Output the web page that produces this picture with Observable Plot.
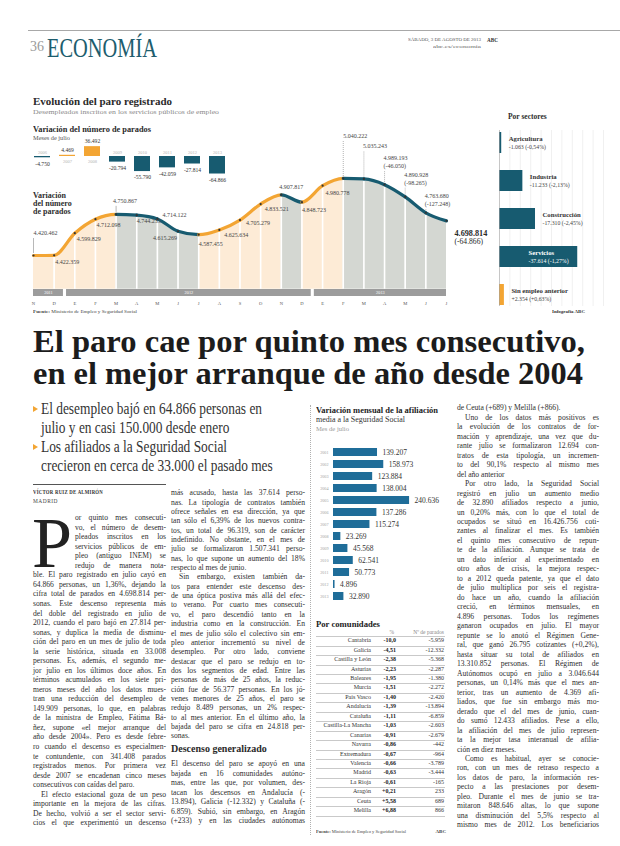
<!DOCTYPE html>
<html lang="es"><head><meta charset="utf-8">
<script src="https://cdn.jsdelivr.net/npm/d3@7"></script>
<script src="https://cdn.jsdelivr.net/npm/@observablehq/plot@0.6"></script>
<style>
html,body{margin:0;padding:0;background:#fff;}
#page{position:relative;width:620px;height:846px;overflow:hidden;font-family:"Liberation Serif","Times New Roman",serif;color:#2a2a2a;}
.a{position:absolute;white-space:nowrap;}
.p{position:absolute;}
.p svg{overflow:visible;display:block;}
</style></head><body><div id="page"></div>
<script>
// ================= DATA =================
const monthLetters = ["N","D","E","F","M","A","M","J","J","A","S","O","N","D","E","F","M","A","M","J","J"];
const parados = [4420462,4422359,4599829,4712098,4750867,4744235,4714122,4615269,4587455,4625634,4705279,4833521,4907817,4848723,4980778,5040222,5035243,4989193,4890928,4763680,4698814];
const stripYears = ["2011","2012","2013"];
const stripFirst = [0,2,14];
const stripLast = [1,13,20];

const julioYears = ["2006","2007","2008","2009","2010","2011","2012","2013"];
const julioChange = [-4750,4469,36492,-20794,-55790,-42059,-27814,-64866];

const sectores = ["Agricultura","Industria","Construcción","Servicios","Sin empleo anterior"];
const sectorChange = [-1063,-11233,-17310,-37614,2354];
const sectorPct = [-0.54,-2.13,-2.45,-1.27,0.63];

const afilYears = ["2001","2002","2003","2004","2005","2006","2007","2008","2009","2010","2011","2012","2013"];
const afilChange = [139207,158973,123884,138004,240636,137286,115274,23269,45568,62541,50773,4896,32890];

const comunidades = ["Cantabria","Galicia","Castilla y León","Asturias","Baleares","Murcia","País Vasco","Andalucía","Cataluña","Castilla-La Mancha","Canarias","Navarra","Extremadura","Valencia","Madrid","La Rioja","Aragón","Ceuta","Melilla"];
const comPct = [-10.0,-4.51,-2.38,-2.23,-1.95,-1.51,-1.40,-1.39,-1.11,-1.03,-0.91,-0.86,-0.67,-0.66,-0.63,-0.61,0.21,5.58,6.88];
const comParados = [-5959,-12332,-5368,-2287,-1380,-2272,-2420,-13894,-6859,-2603,-2679,-442,-964,-3789,-3444,-165,233,689,866];

// ================= TEXT =================
const col1Lines = ["or quinto mes consecuti-","vo, el número de desem-","pleados inscritos en los","servicios públicos de em-","pleo (antiguo INEM) se","redujo de manera nota-","ble. El paro registrado en julio cayó en","64.866 personas, un 1,36%, dejando la","cifra total de parados en 4.698.814 per-","sonas. Este descenso representa más","del doble del registrado en julio de","2012, cuando el paro bajó en 27.814 per-","sonas, y duplica la media de disminu-","ción del paro en un mes de julio de toda","la serie histórica, situada en 33.008","personas. Es, además, el segundo me-","jor julio en los últimos doce años. En","términos acumulados en los siete pri-","meros meses del año los datos mues-","tran una reducción del desempleo de","149.909 personas, lo que, en palabras","de la ministra de Empleo, Fátima Bá-","ñez, supone «el mejor arranque del","año desde 2004». Pero es desde febre-","ro cuando el descenso es especialmen-","te contundente, con 341.408 parados","registrados menos. Por primera vez","desde 2007 se encadenan cinco meses","consecutivos con caídas del paro.$","^El efecto estacional goza de un peso","importante en la mejora de las cifras.","De hecho, volvió a ser el sector servi-","cios el que experimentó un descenso"];
const col2Lines = ["más acusado, hasta las 37.614 perso-","nas. La tipología de contratos también","ofrece señales en esa dirección, ya que","tan sólo el 6,39% de los nuevos contra-","tos, un total de 96.319, son de carácter","indefinido. No obstante, en el mes de","julio se formalizaron 1.507.341 perso-","nas, lo que supone un aumento del 18%","respecto al mes de junio.$","^Sin embargo, existen también da-","tos para entender este descenso des-","de una óptica postiva más allá del efec-","to verano. Por cuarto mes consecuti-","vo, el paro descendió tanto en la","industria como en la construcción. En","el mes de julio sólo el colectivo sin em-","pleo anterior incrementó su nivel de","desempleo. Por otro lado, conviene","destacar que el paro se redujo en to-","dos los segmentos de edad. Entre las","personas de más de 25 años, la reduc-","ción fue de 56.377 personas. En los jó-","venes menores de 25 años, el paro se","redujo 8.489 personas, un 2% respec-","to al mes anterior. En el último año, la","bajada del paro se cifra en 24.818 per-","sonas.$"];
const col2bLines = ["El descenso del paro se apoyó en una","bajada en 16 comunidades autóno-","mas, entre las que, por volumen, des-","tacan los descensos en Andalucía (-","13.894), Galicia (-12.332) y Cataluña (-","6.859). Subió, sin embargo, en Aragón","(+233) y en las ciudades autónomas"];
const col4Lines = ["de Ceuta (+689) y Melilla (+866).$","^Uno de los datos más positivos es","la evolución de los contratos de for-","mación y aprendizaje, una vez que du-","rante julio se formalizaron 12.694 con-","tratos de esta tipología, un incremen-","to del 90,1% respecto al mismo mes","del año anterior$","^Por otro lado, la Seguridad Social","registró en julio un aumento medio","de 32.890 afiliados respecto a junio,","un 0,20% más, con lo que el total de","ocupados se situó en 16.426.756 coti-","zantes al finalizar el mes. Es también","el quinto mes consecutivo de repun-","te de la afiliación. Aunque se trata de","un dato inferior al experimentado en","otro años de crisis, la mejora respec-","to a 2012 queda patente, ya que el dato","de julio multiplica por seis el registra-","do hace un año, cuando la afiliación","creció, en términos mensuales, en","4.896 personas. Todos los regímenes","ganaron ocupados en julio. El mayor","repunte se lo anotó el Régimen Gene-","ral, que ganó 26.795 cotizantes (+0,2%),","hasta situar su total de afiliados en","13.310.852 personas. El Régimen de","Autónomos ocupó en julio a 3.046.644","personas, un 0,14% más que el mes an-","terior, tras un aumento de 4.369 afi-","liados, que fue sin embargo más mo-","derado que el del mes de junio, cuan-","do sumó 12.433 afiliados. Pese a ello,","la afiliación del mes de julio represen-","ta la mejor tasa interanual de afilia-","ción en diez meses.$","^Como es habitual, ayer se conocie-","ron, con un mes de retraso respecto a","los datos de paro, la información res-","pecto a las prestaciones por desem-","pleo. Durante el mes de junio se tra-","mitaron 848.646 altas, lo que supone","una disminución del 5,5% respecto al","mismo mes de 2012. Los beneficiarios"];

// ================= STYLE =================
const FONT = "'Liberation Serif','Times New Roman',serif";
const teal = "#175b70", orange = "#f3a533", peach = "#fdebd6", grayArea = "#d4d7d2", afilBlue = "#1f6d99";

const fmt = n => (n < 0 ? "-" : "") + Math.abs(n).toString().replace(/\B(?=(\d{3})+(?!\d))/g, ".");
const fmtS = n => (n > 0 ? "+" : "") + fmt(n);
const pctS = (n, d = 2) => (n > 0 ? "+" : n < 0 ? "-" : "") + Math.abs(n).toFixed(d).replace(".", ",");

const page = document.getElementById("page");
function T(html, x, cy, size, css = {}, anchor = "start") {
  const d = document.createElement("div");
  d.className = "a";
  const lh = size * 1.25;
  Object.assign(d.style, {top: (cy - lh / 2) + "px", fontSize: size + "px", lineHeight: lh + "px"}, css);
  if (anchor === "end") d.style.right = (620 - x) + "px"; else d.style.left = x + "px";
  d.innerHTML = html;
  page.appendChild(d);
  return d;
}
function fit(d, w, origin = "0 50%") {
  d.style.transformOrigin = origin;
  const nat = d.getBoundingClientRect().width;
  const s = w / nat;
  d.style.transform = `scaleX(${s})`;
  return s;
}
function box(x, y, w, h, css) {
  const d = document.createElement("div");
  d.className = "a";
  Object.assign(d.style, {left: x + "px", top: y + "px", width: w + "px", height: h + "px"}, css);
  page.appendChild(d);
  return d;
}
function place(svg, x, y) {
  const d = document.createElement("div");
  d.className = "p";
  d.style.left = x + "px"; d.style.top = y + "px";
  d.appendChild(svg);
  page.appendChild(d);
  return d;
}
function bodyCol(lines, x, w, y0, lh, size, indentPx, dropLines = 0, dropW = 0) {
  lines.forEach((raw, i) => {
    let t = raw, ind = 0, last = false;
    if (t.startsWith("^")) { t = t.slice(1); ind = indentPx; }
    if (t.endsWith("$")) { t = t.slice(0, -1); last = true; }
    if (i < dropLines) ind = dropW;
    const d = T("", x + ind, y0 + i * lh, size, {color: "#2e2e2e"});
    const s = document.createElement("span");
    s.textContent = t; s.style.display = "inline-block";
    d.appendChild(s);
    const W = w - ind;
    const nat = s.getBoundingClientRect().width;
    if (nat > W) {
      s.style.transformOrigin = "0 50%"; s.style.transform = `scaleX(${W / nat})`;
    } else if (!last) {
      const n = (t.match(/ /g) || []).length;
      if (n) s.style.wordSpacing = ((W - nat) / n) + "px";
    }
  });
}

// ================= PAGE HEADER =================
box(28, 30, 592, 1, {background: "#a8a8a8"});
T("36", 30, 47, 14, {color: "#9a9a9a"});
fit(T("ECONOMÍA", 47, 47.5, 28, {color: "#1d5d6e"}), 110);
fit(T("SÁBADO, 3 DE AGOSTO DE 2013", 408, 40, 5, {color: "#555"}), 73);
T("<b>ABC</b>", 487, 40, 5.2, {color: "#333"});
fit(T("abc.es/economia", 433, 47, 5, {color: "#666"}), 48);

// ================= MAIN CHART TITLES =================
fit(T("<b>Evolución del paro registrado</b>", 33, 102, 10.5, {color: "#2a2a2a"}), 139);
fit(T("Desempleados inscritos en los servicios públicos de empleo", 33, 112, 6.2, {color: "#8a8a8a"}), 186);
fit(T("<b>Variación del número de parados</b>", 33, 129.5, 8, {color: "#2a2a2a"}), 118);
fit(T("Meses de julio", 33, 138, 5.5, {color: "#555"}), 37);

// ================= MAIN AREA/LINE CHART =================
const N = parados.length;
const series = parados.map((v, i) => ({i, v}));
const segs = d3.range(N - 1).map(i => ({i, up: parados[i + 1] > parados[i], top: Math.max(parados[i], parados[i + 1])}));
const yMin = 4150000, yMax = 5050000;
const mainTop = 125, mainH = 166;
const xRange = [33, 446];
const yRange = [163.7, 51.6];
const K = (yMax - yMin) / (yRange[0] - yRange[1]);
const pxPerIdx = (xRange[1] - xRange[0]) / (N - 1);

// label layout (px offsets of label centre from the point)
const lblLayout = [
  {dx: 0, dy: -22, tick: "solid"}, {dx: 1, dy: 7}, {dx: 2, dy: 5.5}, {dx: 1, dy: 6},
  {dx: -3, dy: -13, tick: "solid"}, {dx: 0, dy: 5.5}, {dx: 5, dy: -4}, {dx: -1, dy: 7, end: true},
  {dx: 0, dy: 9}, {dx: 5, dy: 5}, {dx: 6, dy: 3.5}, {dx: 4, dy: 5}, {dx: -2, dy: -8},
  {dx: 0, dy: 8}, {dx: 3, dy: 7}, {dx: 0, dy: -42, tick: "dot"}, {dx: -1, dy: -33, tick: "dot"},
  {dx: -1, dy: -23, tick: "dot", chg: true}, {dx: -1, dy: -17.6, tick: "dot", chg: true},
  {dx: -1, dy: -13, tick: "dot", chg: true}, {dx: 8, dy: 16.5, final: true}
];
const lbl = series.map((d, i) => {
  const L = lblLayout[i];
  return {...d, ...L, lines: L.chg || L.final ? 2 : 1, chgVal: i > 0 ? d.v - parados[i - 1] : 0};
});
const lblX = d => d.i + d.dx / pxPerIdx;
const simple = lbl.filter(d => !d.chg && !d.final);
const ticks = lbl.filter(d => d.tick).map(d => ({...d, y1: d.v + 2 * K, y2: d.v - (d.dy + d.lines * 4 + 1) * K}));
const last = lbl.filter(d => d.final);
const chgs = lbl.filter(d => d.chg);

const mainPlot = Plot.plot({
  width: 470, height: mainH, margin: 0,
  style: {fontFamily: FONT, background: "transparent", overflow: "visible"},
  x: {domain: [0, N - 1], range: xRange, axis: null},
  y: {domain: [yMin, yMax], range: yRange, axis: null},
  color: {type: "identity"},
  marks: [
    // monthly columns, peach when paro rises, grey when it falls
    Plot.rect(segs, {x1: "i", x2: d => d.i + 1, y1: yMin, y2: "top", fill: d => d.up ? peach : grayArea}),
    // white above the curve
    Plot.areaY(series, {x: "i", y1: "v", y2: yMax, curve: "monotone-x", fill: "#fff"}),
    // white month separators
    Plot.ruleX(series.slice(1, N - 1), {x: "i", y1: yMin, y2: yMax, stroke: "#fff", strokeWidth: 1.6}),
    Plot.ruleX(ticks.filter(d => d.tick === "solid"), {x: "i", y1: "y1", y2: "y2", stroke: "#888", strokeWidth: 0.6}),
    Plot.ruleX(ticks.filter(d => d.tick === "dot"), {x: "i", y1: "y1", y2: "y2", stroke: "#777", strokeWidth: 0.7, strokeDasharray: "0.8,1.2"}),
    Plot.line(series, {x: "i", y: "v", curve: "monotone-x", stroke: orange, strokeWidth: 3.2}),
    Plot.dot(series, {x: "i", y: "v", r: 1.1, fill: "#333"}),
    Plot.text(simple.filter(d => !d.end), {x: lblX, y: d => d.v - d.dy * K, text: d => fmt(d.v), textAnchor: "start", fontSize: 6, fill: "#444"}),
    Plot.text(simple.filter(d => d.end), {x: lblX, y: d => d.v - d.dy * K, text: d => fmt(d.v), textAnchor: "end", fontSize: 6, fill: "#444"}),
    Plot.text(chgs, {x: lblX, y: d => d.v - (d.dy - 4) * K, text: d => fmt(d.v), textAnchor: "start", fontSize: 6, fill: "#444"}),
    Plot.text(chgs, {x: lblX, y: d => d.v - (d.dy + 4) * K, text: d => "(" + fmt(d.chgVal) + ")", textAnchor: "start", fontSize: 6, fill: "#444"}),
    Plot.text(last, {x: lblX, y: d => d.v - (d.dy - 4) * K, text: d => fmt(d.v), textAnchor: "start", fontSize: 8.2, fontWeight: "bold", fill: "#2a2a2a"}),
    Plot.text(last, {x: lblX, y: d => d.v - (d.dy + 4) * K, text: d => "(" + fmt(d.chgVal) + ")", textAnchor: "start", fontSize: 7.6, fill: "#2a2a2a"})
  ]
});
// colour each monthly piece of the rendered curve: orange when rising, teal when falling
(function splitLine(svg) {
  const path = svg.querySelector('g[aria-label="line"] path');
  if (!path) return;
  const d = path.getAttribute("d");
  if (!/^M[^C]+(C[^C]+)+$/.test(d)) return;
  const parts = d.slice(1).split("C");
  let start = parts[0];
  const g = path.parentNode;
  parts.slice(1).forEach((seg, i) => {
    const p = path.cloneNode(false);
    p.setAttribute("d", "M" + start + "C" + seg);
    p.setAttribute("stroke", segs[i].up ? orange : teal);
    g.insertBefore(p, path);
    const nums = seg.split(/[ ,]+/).filter(s => s.length);
    start = nums.slice(-2).join(",");
  });
  path.remove();
})(mainPlot);
place(mainPlot, 0, mainTop);

// left label over chart
["Variación", "del número", "de parados"].forEach((s, k) => T("<b>" + s + "</b>", 33, 196 + k * 8, 8, {color: "#2e2e2e"}));

// ================= YEAR STRIP + MONTH AXIS =================
const strip = stripYears.map((y, k) => ({y, x1: Math.max(0, stripFirst[k] - 0.4), x2: Math.min(N - 1, stripLast[k] + 0.45)}));
const stripPlot = Plot.plot({
  width: 470, height: 20, marginTop: 0, marginBottom: 13, marginLeft: 0, marginRight: 0,
  style: {fontFamily: FONT, background: "transparent", fontSize: "4.6px", color: "#555", overflow: "visible"},
  x: {domain: [0, N - 1], range: xRange, ticks: d3.range(N), tickFormat: i => monthLetters[i], tickSize: 0, tickPadding: 5, label: null},
  marks: [
    Plot.rect(strip, {x1: "x1", x2: "x2", fill: "#9c9c9c"}),
    Plot.text(strip, {x: d => (d.x1 + d.x2) / 2, text: "y", fill: "#fff", fontSize: 4.3})
  ]
});
place(stripPlot, 0, 288.5);
fit(T("<b>Fuente:</b> Ministerio de Empleo y Seguridad Social", 33, 312, 4.8, {color: "#444"}), 104);

// ================= JULY BARS (top-left) =================
const jul = julioYears.map((y, k) => ({y, v: julioChange[k]}));
const julPlot = Plot.plot({
  width: 240, height: 48, margin: 0,
  style: {fontFamily: FONT, background: "transparent", overflow: "visible"},
  x: {type: "band", domain: julioYears, range: [26, 233], paddingInner: 0.35, paddingOuter: 0.175, axis: null},
  y: {domain: [-70000, 40000], range: [36.9, 7.2], axis: null},
  color: {type: "identity"},
  marks: [
    Plot.barY(jul, {x: "y", y: "v", fill: d => d.v > 0 ? orange : teal}),
    Plot.text(jul.filter(d => d.v < 0), {x: "y", y: 0, text: "y", dy: -4.3, fontSize: 4.5, fill: "#b3b3b3"}),
    Plot.text(jul.filter(d => d.v >= 0), {x: "y", y: 0, text: "y", dy: 5, fontSize: 4.5, fill: "#b3b3b3"}),
    Plot.text(jul.filter(d => d.v < 0), {x: "y", y: "v", text: d => fmt(d.v), dy: 6, fontSize: 5.6, fill: "#333"}),
    Plot.text(jul.filter(d => d.v >= 0), {x: "y", y: "v", text: d => fmt(d.v), dy: -5, fontSize: 5.6, fill: "#333"})
  ]
});
place(julPlot, 0, 138);

// ================= POR SECTORES =================
T("<b>Por sectores</b>", 508, 117, 7.5, {color: "#2e2e2e"});
const secData = sectores.map((s, k) => ({s, v: sectorChange[k], p: sectorPct[k]}));
const insideLabel = new Set(["Servicios"]);
const secPlot = Plot.plot({
  width: 150, height: 212, marginTop: 30, marginBottom: 6, marginLeft: 0, marginRight: 0,
  style: {fontFamily: FONT, background: "transparent", overflow: "visible"},
  x: {domain: [0, 50000], range: [29, 133], axis: null},
  y: {type: "band", domain: sectores, range: [30, 206], paddingInner: 0.458, paddingOuter: 0, axis: null},
  color: {type: "identity"},
  marks: [
    Plot.ruleX(d3.ticks(0, 50000, 10).slice(1), {stroke: "#e6e6e6", strokeWidth: 0.6}),
    Plot.barX(secData, {x: d => Math.abs(d.v), y: "s", fill: d => d.v > 0 ? orange : teal}),
    Plot.ruleX([0], {stroke: "#a0a0a0", strokeWidth: 0.6}),
    Plot.text(secData.filter(d => !insideLabel.has(d.s)), {x: d => Math.abs(d.v), y: "s", text: "s", dx: 7, dy: -4.5, textAnchor: "start", fontSize: 6.7, fontWeight: "bold", fill: "#333"}),
    Plot.text(secData.filter(d => !insideLabel.has(d.s)), {x: d => Math.abs(d.v), y: "s", text: d => fmtS(d.v) + " (" + pctS(d.p) + "%)", dx: 7, dy: 3.8, textAnchor: "start", fontSize: 5.8, fill: "#444"}),
    Plot.text(secData.filter(d => insideLabel.has(d.s)), {x: 0, y: "s", text: "s", dx: 29, dy: -4.5, textAnchor: "start", fontSize: 6.7, fontWeight: "bold", fill: "#fff"}),
    Plot.text(secData.filter(d => insideLabel.has(d.s)), {x: 0, y: "s", text: d => fmtS(d.v) + " (" + pctS(d.p) + "%)", dx: 29, dy: 3.8, textAnchor: "start", fontSize: 5.8, fill: "#fff"})
  ]
});
place(secPlot, 470, 100);
fit(T("<b>Infografía ABC</b>", 552, 312, 4.8, {color: "#333"}), 33);

// ================= HEADLINE & BULLETS =================
fit(T("<b>El paro cae por quinto mes consecutivo,</b>", 33, 342, 31, {color: "#1c1c1c"}), 552);
fit(T("<b>en el mejor arranque de año desde 2004</b>", 33, 374, 31, {color: "#1c1c1c"}), 550);
const bulletLines = [["El desempleo bajó en 64.866 personas en", 409], ["julio y en casi 150.000 desde enero", 427.5], ["Los afiliados a la Seguridad Social", 447], ["crecieron en cerca de 33.000 el pasado mes", 465.5]];
const b0 = T(bulletLines[0][0], 41, bulletLines[0][1], 16, {color: "#333"});
const bs = fit(b0, 221);
bulletLines.slice(1).forEach(([s, cy]) => { const d = T(s, 41, cy, 16, {color: "#333"}); d.style.transformOrigin = "0 50%"; d.style.transform = `scaleX(${bs})`; });
[409, 447].forEach(cy => box(33, cy - 3.5, 0, 0, {borderLeft: "5px solid " + orange, borderTop: "3.5px solid transparent", borderBottom: "3.5px solid transparent"}));

// ================= BODY COLUMNS =================
box(33, 484, 133, 1, {background: "#555"});
fit(T("<b>VÍCTOR RUIZ DE ALMIRÓN</b>", 33, 493, 6, {color: "#333", letterSpacing: "0.3px"}), 70);
fit(T("MADRID", 33, 501, 5.5, {color: "#444", letterSpacing: "0.5px"}), 25);
// drop cap
const dc = document.createElement("div");
dc.className = "a"; dc.textContent = "P";
Object.assign(dc.style, {left: "32px", top: "506.7px", fontSize: "72px", lineHeight: "72px", color: "#222"});
page.appendChild(dc);
bodyCol(col1Lines, 33, 133, 518, 9.53, 7.6, 8, 6, 42);
bodyCol(col2Lines, 171, 134, 493, 9.35, 7.6, 8);
T("<b>Descenso generalizado</b>", 171, 749, 10, {color: "#2a2a2a"});
bodyCol(col2bLines, 171, 134, 764, 9.5, 7.6, 8);
bodyCol(col4Lines, 457, 142, 408, 9.48, 7.6, 8);
box(309.5, 405, 0, 430, {borderLeft: "1px dotted #b0b0b0"});

// ================= AFILIACIÓN BARS =================
fit(T("<b>Variación mensual de la afiliación</b>", 316, 411, 7.3, {color: "#222"}), 122);
fit(T("media a la Seguridad Social", 316, 420, 7.3, {color: "#333"}), 89);
fit(T("Mes de julio", 316, 429, 5.5, {color: "#999"}), 33);
const afil = afilYears.map((y, k) => ({y, v: afilChange[k]}));
const afilPlot = Plot.plot({
  width: 140, height: 176, marginLeft: 23, marginRight: 0, marginTop: 0, marginBottom: 0,
  style: {fontFamily: FONT, background: "transparent", fontSize: "4.2px", color: "#a0a0a0", overflow: "visible"},
  x: {domain: [0, 260000], range: [23, 105.2], axis: null},
  y: {type: "band", domain: afilYears, range: [5.5, 173.5], padding: 0.3, axis: "left", tickSize: 0, tickPadding: 5, label: null},
  marks: [
    Plot.barX(afil, {x: "v", y: "y", fill: afilBlue}),
    Plot.text(afil, {x: "v", y: "y", text: d => fmt(d.v), dx: 5, textAnchor: "start", fontSize: 7.5, fill: "#333"})
  ]
});
place(afilPlot, 310, 435);

// ================= POR COMUNIDADES TABLE =================
fit(T("<b>Por comunidades</b>", 316, 624, 8.5, {color: "#222"}), 64);
T("%", 394, 632, 5.5, {color: "#888"}, "end");
T("Nº de parados", 444, 632, 5.5, {color: "#888"}, "end");
const rowY0 = 641, rowH = 9.44;
box(316, rowY0 - rowH / 2, 129, 0.6, {background: "#c9c9c9"});
comunidades.forEach((c, k) => {
  const cy = rowY0 + k * rowH;
  T(c, 371, cy, 6, {color: "#333"}, "end");
  T("<b>" + pctS(comPct[k], Math.abs(comPct[k]) >= 10 ? 1 : 2) + "</b>", 396, cy, 6, {color: "#222"}, "end");
  T(fmt(comParados[k]), 444, cy, 6, {color: "#333"}, "end");
  box(316, cy + rowH / 2, 129, 0.6, {background: "#c9c9c9"});
});
fit(T("<b>Fuente:</b> Ministerio de Empleo y Seguridad Social", 316, 832, 4.8, {color: "#444"}), 90);
T("<b>ABC</b>", 446, 832, 5, {color: "#444"}, "end");
</script></body></html>
